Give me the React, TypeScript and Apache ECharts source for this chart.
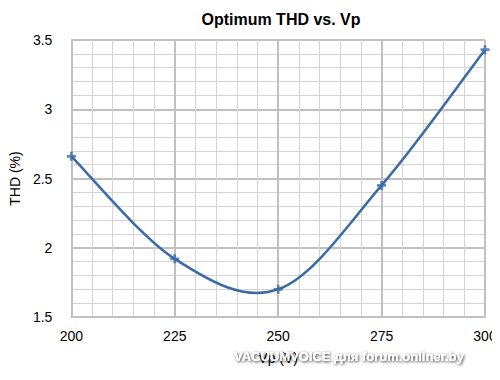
import React, { useEffect, useRef } from "react";
import * as echarts from "echarts";

const vp = [200, 225, 250, 275, 300];
const thd = [2.66, 1.92, 1.7, 2.45, 3.43];
const title = "Optimum THD vs. Vp";
const xName = "Vp (V)";
const yName = "THD (%)";
const watermark = "VACUUMVOICE для forum.onliner.by";

const LINE = "#3a6ba5";

export default function App() {
  const ref = useRef<HTMLDivElement>(null);
  useEffect(() => {
    if (!ref.current) return;
    const chart = echarts.init(ref.current, null, { renderer: "svg" });
    const font = "'Liberation Sans', Arial, sans-serif";
    const segs = vp.slice(0, -1).map((v, i) => [v, thd[i]]);
    chart.setOption({
      animation: false,
      backgroundColor: "#ffffff",
      title: {
        text: title,
        left: 276,
        textAlign: "center",
        top: 6,
        textStyle: { fontFamily: font, fontSize: 16, fontWeight: "bold", color: "#000" },
      },
      grid: { left: 67, right: 15, top: 40, bottom: 63 },
      xAxis: {
        type: "value",
        min: 200,
        max: 300,
        interval: 25,
        name: xName,
        nameLocation: "middle",
        nameGap: 34,
        nameTextStyle: { fontFamily: font, fontSize: 14, color: "#000" },
        axisLine: { show: true, lineStyle: { color: "#c0c0c0", width: 2 } },
        axisTick: { show: false },
        axisLabel: { fontFamily: font, fontSize: 14, color: "#000", margin: 12 },
        splitLine: { show: true, lineStyle: { color: "#c0c0c0", width: 2 } },
        minorTick: { show: false, splitNumber: 5 },
        minorSplitLine: { show: true, lineStyle: { color: "#d4d4d4", width: 1 } },
      },
      yAxis: {
        type: "value",
        min: 1.5,
        max: 3.5,
        interval: 0.5,
        name: yName,
        nameLocation: "middle",
        nameGap: 44,
        nameRotate: 90,
        nameTextStyle: { fontFamily: font, fontSize: 14, color: "#000" },
        axisLine: { show: true, lineStyle: { color: "#c0c0c0", width: 2 } },
        axisTick: { show: false },
        axisLabel: { fontFamily: font, fontSize: 14, color: "#000", margin: 19 },
        splitLine: { show: true, lineStyle: { color: "#c0c0c0", width: 2 } },
        minorTick: { show: false, splitNumber: 5 },
        minorSplitLine: { show: true, lineStyle: { color: "#d4d4d4", width: 1 } },
      },
      series: [
        {
          type: "custom",
          coordinateSystem: "cartesian2d",
          data: segs,
          z: 3,
          renderItem: (params: any, api: any) => {
            const i = params.dataIndex;
            const pts = vp.map((v, k) => api.coord([v, thd[k]]));
            const p0 = pts[Math.max(i - 1, 0)];
            const p1 = pts[i];
            const p2 = pts[i + 1];
            const p3 = pts[Math.min(i + 2, pts.length - 1)];
            const t = 1 / 6;
            return {
              type: "bezierCurve",
              shape: {
                x1: p1[0],
                y1: p1[1],
                cpx1: p1[0] + (p2[0] - p0[0]) * t,
                cpy1: p1[1] + (p2[1] - p0[1]) * t,
                cpx2: p2[0] - (p3[0] - p1[0]) * t,
                cpy2: p2[1] - (p3[1] - p1[1]) * t,
                x2: p2[0],
                y2: p2[1],
              },
              style: { stroke: LINE, lineWidth: 2.5, fill: "none" },
            };
          },
        },
        {
          type: "scatter",
          data: vp.map((v, i) => [v, thd[i]]),
          z: 4,
          symbol: "path://M3.5,0 L6.5,0 L6.5,3.5 L10,3.5 L10,6.5 L6.5,6.5 L6.5,10 L3.5,10 L3.5,6.5 L0,6.5 L0,3.5 L3.5,3.5 Z",
          symbolSize: 9,
          itemStyle: { color: LINE },
        },
      ],
      graphic: [
        {
          type: "text",
          left: 234,
          top: 350,
          style: {
            text: watermark,
            fill: "#ffffff",
            font: "bold 13px 'Liberation Sans', Arial, sans-serif",
            textShadowColor: "rgba(0,0,0,0.85)",
            textShadowBlur: 3,
            textShadowOffsetX: 1,
            textShadowOffsetY: 1,
          },
          z: 100,
        },
      ],
    });
    return () => chart.dispose();
  }, []);
  return <div ref={ref} style={{ width: 500, height: 380, margin: -8 }} />;
}
